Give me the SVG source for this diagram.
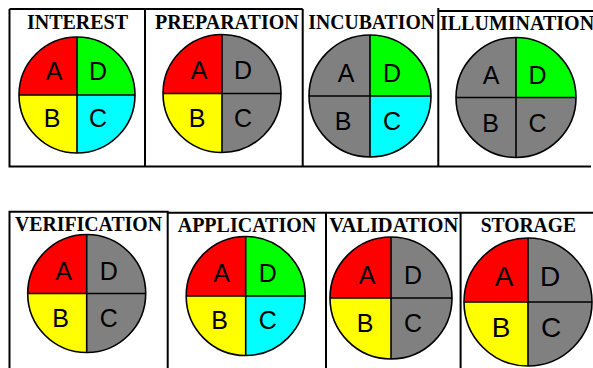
<svg xmlns="http://www.w3.org/2000/svg" width="593" height="368" viewBox="0 0 593 368">
<style>
.bg{fill:#ffffff}
.box{fill:none;stroke:#000;stroke-width:2}
.q{stroke:#000;stroke-width:1.2}
.r{fill:#ff0000}.g{fill:#00ff00}.y{fill:#ffff00}.c{fill:#00ffff}.k{fill:#808080}
.ol{fill:none;stroke:#000;stroke-width:1.6}
.x{stroke:#000;stroke-width:1.6;fill:none}
.t{font-family:"Liberation Serif","Times New Roman",serif;font-weight:bold;font-size:20px;fill:#000}
.l{font-family:"Liberation Sans",Arial,sans-serif;font-size:25px;fill:#000;text-anchor:middle}
</style>
<rect class="bg" x="0" y="0" width="593" height="368"/>
<g id="frames">
<path class="box" d="M9.5,9 H302.7 M9.5,9 V166.5 H591 M145,9 V166.5 M302.7,9 V166.5 M438.3,8 V166.5 M438.3,11 H593"/>
<path class="box" d="M9.5,368 V211.7 H167.7 V368 M167.7,212.7 H593 M326,212.7 V368 M460.6,212.7 V368"/>
</g>
<g id="interest">
<text class="t" x="77.5" y="29.3" text-anchor="middle">INTEREST</text>
<g transform="translate(77,95)">
<path class="r" d="M0,0 H-58 A58,58 0 0 1 0,-58 Z"/>
<path class="g" d="M0,0 V-58 A58,58 0 0 1 58,0 Z"/>
<path class="c" d="M0,0 H58 A58,58 0 0 1 0,58 Z"/>
<path class="y" d="M0,0 V58 A58,58 0 0 1 -58,0 Z"/>
<circle class="ol" r="58"/><path class="x" d="M-58,0 H58 M0,-58 V58"/>
<text class="l" x="-23" y="-15">A</text><text class="l" x="21" y="-15">D</text>
<text class="l" x="-25" y="32">B</text><text class="l" x="21" y="32">C</text>
</g>
</g>
<g id="preparation">
<text class="t" x="155" y="29">PREPARATION</text>
<g transform="translate(222,93.5)">
<path class="r" d="M0,0 H-59 A59,59 0 0 1 0,-59 Z"/>
<path class="k" d="M0,0 V-59 A59,59 0 0 1 59,0 Z"/>
<path class="k" d="M0,0 H59 A59,59 0 0 1 0,59 Z"/>
<path class="y" d="M0,0 V59 A59,59 0 0 1 -59,0 Z"/>
<circle class="ol" r="59"/><path class="x" d="M-59,0 H59 M0,-59 V59"/>
<text class="l" x="-23" y="-15">A</text><text class="l" x="21" y="-15">D</text>
<text class="l" x="-25" y="33">B</text><text class="l" x="21" y="33">C</text>
</g>
</g>
<g id="incubation">
<text class="t" x="308.3" y="28.5" textLength="126.7" lengthAdjust="spacingAndGlyphs">INCUBATION</text>
<g transform="translate(370,96)">
<path class="k" d="M0,0 H-61 A61,61 0 0 1 0,-61 Z"/>
<path class="g" d="M0,0 V-61 A61,61 0 0 1 61,0 Z"/>
<path class="c" d="M0,0 H61 A61,61 0 0 1 0,61 Z"/>
<path class="k" d="M0,0 V61 A61,61 0 0 1 -61,0 Z"/>
<circle class="ol" r="61"/><path class="x" d="M-61,0 H61 M0,-61 V61"/>
<text class="l" x="-24" y="-14">A</text><text class="l" x="22" y="-14">D</text>
<text class="l" x="-27" y="34">B</text><text class="l" x="22" y="34">C</text>
</g>
</g>
<g id="illumination">
<text class="t" x="440" y="30">ILLUMINATION</text>
<g transform="translate(516,97.5)">
<path class="k" d="M0,0 H-60 A60,60 0 0 1 0,-60 Z"/>
<path class="g" d="M0,0 V-60 A60,60 0 0 1 60,0 Z"/>
<path class="k" d="M0,0 H60 A60,60 0 0 1 0,60 Z"/>
<path class="k" d="M0,0 V60 A60,60 0 0 1 -60,0 Z"/>
<circle class="ol" r="60"/><path class="x" d="M-60,0 H60 M0,-60 V60"/>
<text class="l" x="-25" y="-14">A</text><text class="l" x="21.5" y="-14">D</text>
<text class="l" x="-25.5" y="34">B</text><text class="l" x="21.5" y="34">C</text>
</g>
</g>
<g id="verification">
<text class="t" x="15" y="230.7" textLength="147" lengthAdjust="spacingAndGlyphs">VERIFICATION</text>
<g transform="translate(86.7,293.5)">
<path class="r" d="M0,0 H-59 A59,59 0 0 1 0,-59 Z"/>
<path class="k" d="M0,0 V-59 A59,59 0 0 1 59,0 Z"/>
<path class="k" d="M0,0 H59 A59,59 0 0 1 0,59 Z"/>
<path class="y" d="M0,0 V59 A59,59 0 0 1 -59,0 Z"/>
<circle class="ol" r="59"/><path class="x" d="M-59,0 H59 M0,-59 V59"/>
<text class="l" x="-23" y="-14">A</text><text class="l" x="22" y="-14">D</text>
<text class="l" x="-26" y="33">B</text><text class="l" x="22" y="33">C</text>
</g>
</g>
<g id="application">
<text class="t" x="177.7" y="231.7">APPLICATION</text>
<g transform="translate(245.7,296)">
<path class="r" d="M0,0 H-59.5 A59.5,59.5 0 0 1 0,-59.5 Z"/>
<path class="g" d="M0,0 V-59.5 A59.5,59.5 0 0 1 59.5,0 Z"/>
<path class="c" d="M0,0 H59.5 A59.5,59.5 0 0 1 0,59.5 Z"/>
<path class="y" d="M0,0 V59.5 A59.5,59.5 0 0 1 -59.5,0 Z"/>
<circle class="ol" r="59.5"/><path class="x" d="M-59.5,0 H59.5 M0,-59.5 V59.5"/>
<text class="l" x="-24" y="-14">A</text><text class="l" x="22" y="-14">D</text>
<text class="l" x="-26" y="33">B</text><text class="l" x="22" y="33">C</text>
</g>
</g>
<g id="validation">
<text class="t" x="329.3" y="231.7" textLength="129" lengthAdjust="spacingAndGlyphs">VALIDATION</text>
<g transform="translate(391,298)">
<path class="r" d="M0,0 H-61 A61,61 0 0 1 0,-61 Z"/>
<path class="k" d="M0,0 V-61 A61,61 0 0 1 61,0 Z"/>
<path class="k" d="M0,0 H61 A61,61 0 0 1 0,61 Z"/>
<path class="y" d="M0,0 V61 A61,61 0 0 1 -61,0 Z"/>
<circle class="ol" r="61"/><path class="x" d="M-61,0 H61 M0,-61 V61"/>
<text class="l" x="-24" y="-14">A</text><text class="l" x="22" y="-14">D</text>
<text class="l" x="-26" y="34">B</text><text class="l" x="22" y="34">C</text>
</g>
</g>
<g id="storage">
<text class="t" x="480.7" y="231.7" textLength="95.3" lengthAdjust="spacingAndGlyphs">STORAGE</text>
<g transform="translate(528,302)">
<path class="r" d="M0,0 H-64 A64,64 0 0 1 0,-64 Z"/>
<path class="k" d="M0,0 V-64 A64,64 0 0 1 64,0 Z"/>
<path class="k" d="M0,0 H64 A64,64 0 0 1 0,64 Z"/>
<path class="y" d="M0,0 V64 A64,64 0 0 1 -64,0 Z"/>
<circle class="ol" r="64"/><path class="x" d="M-64,0 H64 M0,-64 V64"/>
<text class="l" x="-24" y="-16" style="font-size:28px">A</text><text class="l" x="22" y="-16" style="font-size:28px">D</text>
<text class="l" x="-27" y="34.5" style="font-size:28px">B</text><text class="l" x="23" y="34.5" style="font-size:28px">C</text>
</g>
</g>
</svg>
